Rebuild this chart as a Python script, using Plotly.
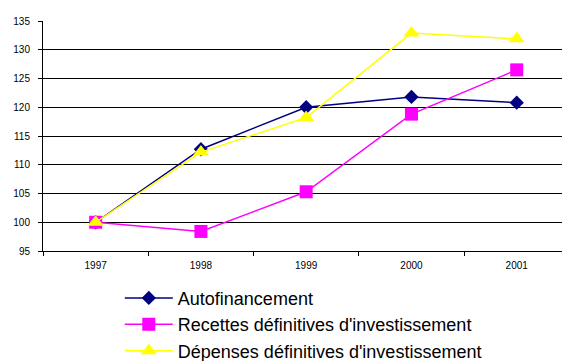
import plotly.graph_objects as go

years = ["1997", "1998", "1999", "2000", "2001"]
autofinancement = [100.0, 112.7, 120.0, 121.8, 120.8]
recettes = [100.0, 98.4, 105.3, 118.8, 126.5]
depenses = [100.0, 112.2, 118.2, 132.9, 131.9]

series = [
    ("Autofinancement", autofinancement, "#000080", "diamond", 11),
    ("Recettes définitives d'investissement", recettes, "#FF00FF", "square", 13),
    ("Dépenses définitives d'investissement", depenses, "#FFFF00", "triangle-up", 14),
]

fig = go.Figure()
for i, (name, vals, color, symbol, size) in enumerate(series):
    fig.add_trace(go.Scatter(
        x=years, y=vals, name=name, mode="lines+markers",
        legendgroup=f"g{i}",
        line=dict(color=color, width=1.5),
        marker=dict(symbol=symbol, size=size, color=color, line=dict(width=0)),
    ))

font_family = "Liberation Sans, Arial, sans-serif"
fig.update_layout(
    width=562, height=361,
    margin=dict(l=43, r=0, t=21, b=110, autoexpand=False),
    paper_bgcolor="white", plot_bgcolor="white",
    font=dict(family=font_family, color="black"),
    showlegend=True,
    legend=dict(
        x=0.148, y=-0.125, xanchor="left", yanchor="top",
        orientation="v", font=dict(size=18, family=font_family, color="black"),
        bgcolor="rgba(0,0,0,0)", itemwidth=48, tracegroupgap=0,
    ),
)
fig.update_xaxes(
    type="category", range=[-0.5, 4.43],
    showline=True, linecolor="black", linewidth=1,
    ticks="outside", tickson="boundaries", ticklen=4, tickcolor="black",
    showgrid=False, tickfont=dict(size=10), ticklabelstandoff=5,
)
fig.update_yaxes(
    range=[95, 135], dtick=5, tick0=95,
    showline=True, linecolor="black", linewidth=1,
    ticks="outside", ticklen=4, tickcolor="black",
    showgrid=True, gridcolor="black", gridwidth=1,
    zeroline=False, tickfont=dict(size=10), ticklabelstandoff=6,
)

fig.write_html("out.html")
